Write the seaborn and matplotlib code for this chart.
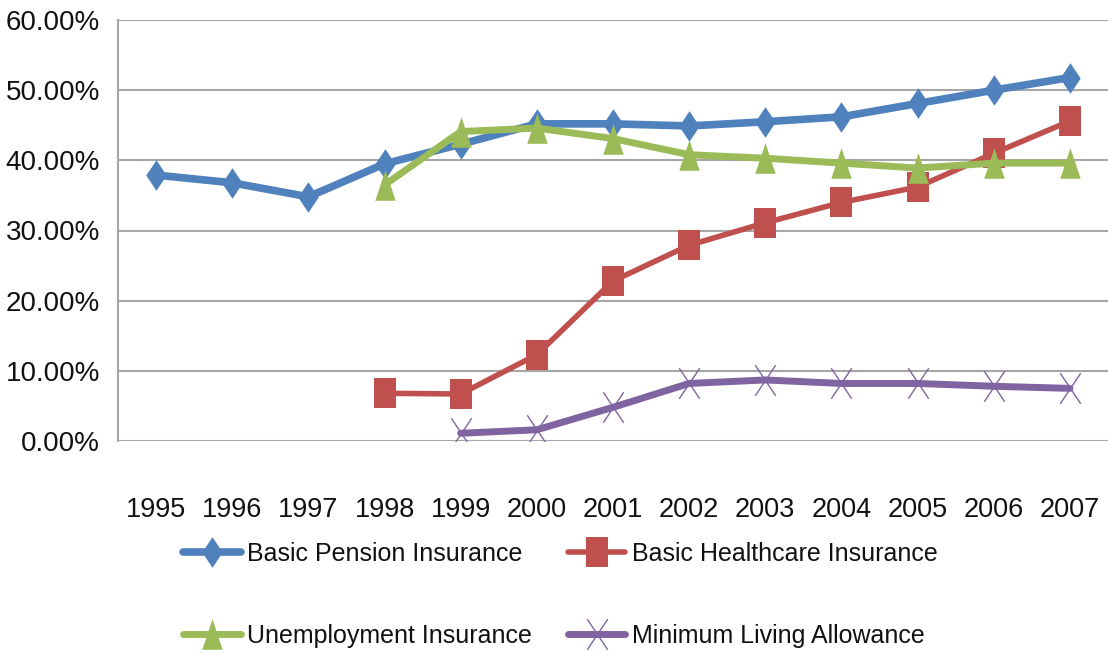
import numpy as np
import pandas as pd
import seaborn as sns
import matplotlib.pyplot as plt
from matplotlib.path import Path
from matplotlib.ticker import FuncFormatter

sns.set_style("white")
plt.rcParams['font.family'] = ['Liberation Sans', 'DejaVu Sans']

# ---- data (coverage rates, %) ----
years = [1995, 1996, 1997, 1998, 1999, 2000, 2001, 2002, 2003, 2004, 2005, 2006, 2007]
pension = [37.9, 36.8, 34.8, 39.5, 42.3, 45.2, 45.2, 44.9, 45.5, 46.2, 48.1, 50.0, 51.8]
healthcare = [np.nan, np.nan, np.nan, 6.8, 6.7, 12.3, 22.8, 27.9, 31.1, 34.0, 36.2, 41.0, 45.6]
unemployment = [np.nan, np.nan, np.nan, 36.5, 44.1, 44.6, 43.1, 40.8, 40.3, 39.6, 38.9, 39.6, 39.6]
min_living = [np.nan, np.nan, np.nan, np.nan, 1.1, 1.6, 4.8, 8.2, 8.7, 8.2, 8.2, 7.8, 7.5]

labels = ["Basic Pension Insurance", "Basic Healthcare Insurance",
          "Unemployment Insurance", "Minimum Living Allowance"]

# tall (stretched) Excel-like markers
diamond = Path([(0, 1), (0.67, 0), (0, -1), (-0.67, 0), (0, 1)], closed=True)
square = Path([(-0.72, -1), (0.72, -1), (0.72, 1), (-0.72, 1), (-0.72, -1)], closed=True)
triangle = Path([(-0.67, -1), (0.67, -1), (0, 1), (-0.67, -1)], closed=True)
cross = Path([(-0.67, -1), (0.67, 1), (-0.67, 1), (0.67, -1)],
             [Path.MOVETO, Path.LINETO, Path.MOVETO, Path.LINETO])

series = [
    (pension, "#4F81BD", diamond, 22, 5.5),
    (healthcare, "#C0504D", square, 22, 4.0),
    (unemployment, "#9BBB59", triangle, 22, 5.0),
    (min_living, "#8064A2", cross, 22, 5.0),
]

fig = plt.figure(figsize=(11.08, 6.52), dpi=100)
ax = fig.add_axes([118 / 1108, 211 / 652, 990 / 1108, 421 / 652])

for (vals, col, mk, ms, lw), lab in zip(series, labels):
    df = pd.DataFrame({"Year": years, "Value": vals})
    if mk is cross:
        kw = dict(markerfacecolor="none", markeredgecolor=col, markeredgewidth=1.0)
    else:
        kw = dict(markerfacecolor=col, markeredgecolor=col, markeredgewidth=0)
    sns.lineplot(data=df, x="Year", y="Value", color=col, linewidth=lw,
                 marker=mk, markersize=ms, ax=ax, label=lab, **kw)

ax.set_xlim(1994.5, 2007.5)
ax.set_ylim(0, 60)
ax.set_yticks(range(0, 61, 10))
ax.set_xticks(years)
ax.yaxis.set_major_formatter(FuncFormatter(lambda v, p: f"{v:.2f}%"))
ax.grid(axis="y", color="#a6a6a6", linewidth=1.5)
ax.set_axisbelow(True)
for s in ["top", "right", "bottom"]:
    ax.spines[s].set_visible(False)
ax.spines["left"].set_color("#a6a6a6")
ax.spines["left"].set_linewidth(1.5)
ax.tick_params(axis="y", length=0, pad=13, labelsize=20, labelcolor="#111111")
ax.tick_params(axis="x", length=0, pad=40, labelsize=19.5, labelcolor="#111111")
ax.set_xlabel("")
ax.set_ylabel("")

h, l = ax.get_legend_handles_labels()
ax.get_legend().remove()
order = [0, 2, 1, 3]
fig.legend([h[i] for i in order], [l[i] for i in order],
           loc="upper left", bbox_to_anchor=(183 / 1108, 1 - 542 / 652),
           ncol=2, frameon=False, fontsize=18, handlelength=2.3,
           handletextpad=0.25, columnspacing=1.45, labelspacing=2.3,
           borderpad=0, borderaxespad=0, labelcolor="#111111")

fig.savefig("out.png", dpi=100)
